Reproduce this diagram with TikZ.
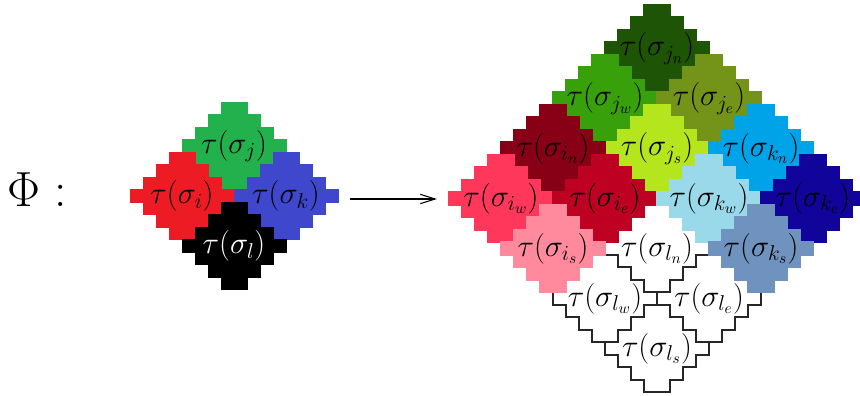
\RequirePackage{fix-cm}
\documentclass[tikz,border=0pt]{standalone}
\usepackage{tikz}
\usetikzlibrary{arrows.meta}

\definecolor{cj}{RGB}{34,177,76}
\definecolor{ci}{RGB}{237,28,36}
\definecolor{ck}{RGB}{63,72,204}
\definecolor{cjn}{RGB}{30,84,6}
\definecolor{cjw}{RGB}{55,160,10}
\definecolor{cje}{RGB}{115,148,25}
\definecolor{cjs}{RGB}{181,230,29}
\definecolor{cin}{RGB}{136,0,21}
\definecolor{ciw}{RGB}{255,55,90}
\definecolor{cie}{RGB}{190,0,35}
\definecolor{cis}{RGB}{255,138,158}
\definecolor{ckn}{RGB}{0,162,232}
\definecolor{ckw}{RGB}{153,217,234}
\definecolor{cke}{RGB}{16,4,154}
\definecolor{cks}{RGB}{112,146,190}

\tikzset{
  tlabel/.style={font=\fontsize{23}{27}\selectfont, inner sep=0pt},
  outline/.style={line width=1.2pt, draw=black!85, fill=white},
}

% one staircase tile, centred at #2
\newcommand{\stairtile}[2]{%
  \filldraw[#1, shift={#2}] (-1,3.5) -| (1,2.5) -| (2,1.5) -| (3,0.5) -| (4,-0.5)
    -| (3,-1.5) -| (2,-2.5) -| (1,-3.5) -| (-1,-2.5) -| (-2,-1.5) -| (-3,-0.5)
    -| (-4,0.5) -| (-3,1.5) -| (-2,2.5) -| (-1,3.5) -- cycle;}

\begin{document}
\begin{tikzpicture}[x=9.75pt, y=9.375pt]
\useasboundingbox (0,0) rectangle (66.154,31.68);
\clip (0,0) rectangle (66.154,31.68);

\node[font=\fontsize{37}{44}\selectfont] (phi) at (2.85,16.5) {$\Phi:$};

% left: four tiles
\begin{scope}[shift={(18,16)}]
\foreach \x/\y/\col in {0/4/cj, -4/0/ci, 4/0/ck, 0/-4/black}
  \stairtile{fill=\col, draw=\col, line width=0.4pt}{(\x,\y)};
\foreach \x/\y/\nm in {0/4/j, -4/0/i, 4/0/k}
  \node[tlabel] (\nm) at (\x,\y) {$\tau(\sigma_{\nm})$};
\node[tlabel, text=white] (l) at (0,-4) {$\tau(\sigma_{l})$};
\end{scope}

% right: sixteen tiles
\begin{scope}[shift={(50.54,15.8)}]
\foreach \x/\y in {0/-4, -4/-8, 4/-8, 0/-12}
  \stairtile{outline}{(\x,\y)};
\foreach \x/\y/\col in {0/12/cjn, -4/8/cjw, 4/8/cje, 0/4/cjs,
    -8/4/cin, -12/0/ciw, -4/0/cie, -8/-4/cis,
    8/4/ckn, 4/0/ckw, 12/0/cke, 8/-4/cks}
  \stairtile{fill=\col, draw=\col, line width=1.2pt}{(\x,\y)};
\foreach \x/\y/\p/\q in {0/12/j/n, -4/8/j/w, 4/8/j/e, 0/4/j/s,
    -8/4/i/n, -12/0/i/w, -4/0/i/e, -8/-4/i/s,
    8/4/k/n, 4/0/k/w, 12/0/k/e, 8/-4/k/s,
    0/-4/l/n, -4/-8/l/w, 4/-8/l/e, 0/-12/l/s}
  \node[tlabel] (\p\q) at (\x,\y) {$\tau(\sigma_{\p_\q})$};
\end{scope}

\coordinate (mapfrom) at (26.9,15.76);
\coordinate (mapto) at (33.6,15.76);
\draw[line width=0.8pt, -{Straight Barb[length=11pt, width=7pt]}] (mapfrom) -- (mapto);
\end{tikzpicture}
\end{document}
